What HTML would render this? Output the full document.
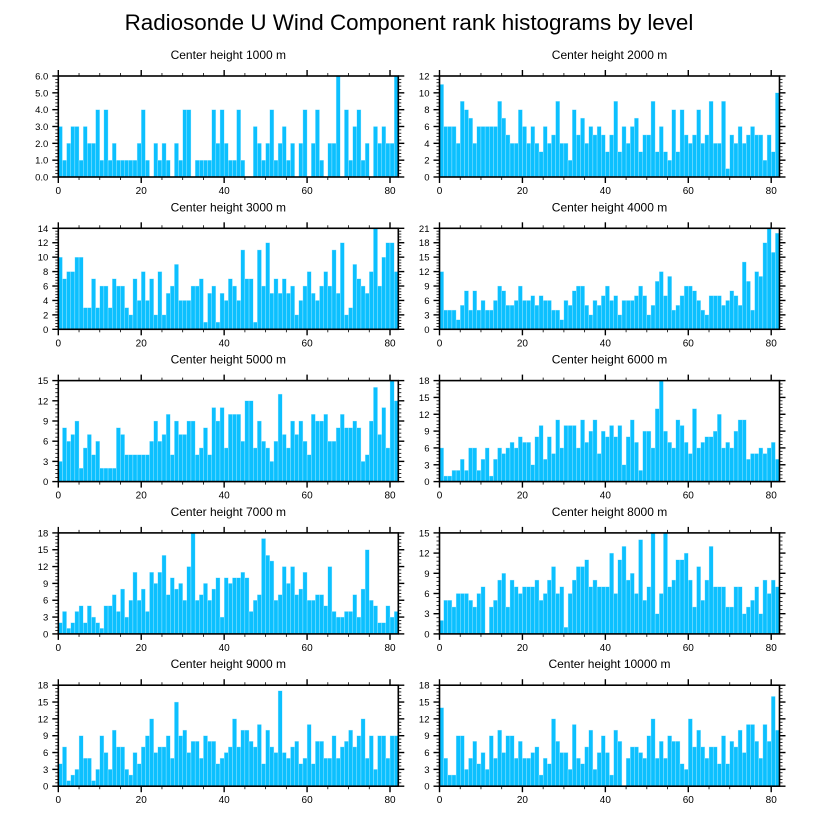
<!DOCTYPE html>
<html><head><meta charset="utf-8"><style>
html,body{margin:0;padding:0;background:#fff;}
svg{display:block;font-family:"Liberation Sans",Arial,sans-serif;}
</style></head><body>
<svg id="chart" width="818" height="824" viewBox="0 0 818 824" xmlns="http://www.w3.org/2000/svg">
<rect width="818" height="824" fill="#fff"/>
<text x="409" y="30" font-size="22.4" text-anchor="middle" fill="#000">Radiosonde U Wind Component rank histograms by level</text>
</svg>
<script>
const panelTitles = ["Center height 1000 m","Center height 2000 m","Center height 3000 m","Center height 4000 m","Center height 5000 m","Center height 6000 m","Center height 7000 m","Center height 8000 m","Center height 9000 m","Center height 10000 m"];
const vals1000 = [3,1,2,3,3,1,3,2,2,4,1,4,1,2,1,1,1,1,1,2,4,1,0,2,1,2,1,0,2,1,4,4,0,1,1,1,1,4,2,4,2,1,1,4,1,0,0,3,2,1,2,4,1,2,3,1,2,0,2,4,0,2,4,1,0,2,2,6,0,4,1,3,4,1,2,0,3,2,3,2,2,6];
const vals2000 = [11,6,6,6,4,9,8,7,4,6,6,6,6,6,9,7,5,4,4,8,6,4,6,4,3,6,4,5,9,4,4,2,8,5,7,4,6,5,6,5,3,5,9,3,6,4,6,7,3,5,5,9,3,6,3,2,8,3,8,5,4,5,8,4,5,9,4,4,9,1,5,4,6,4,5,6,5,5,2,5,3,10];
const vals3000 = [10,7,8,8,10,10,3,3,7,3,6,6,3,7,6,6,3,2,7,4,8,4,7,2,8,2,5,6,9,4,4,4,6,6,7,1,5,6,1,5,4,7,6,4,11,7,7,1,11,6,12,5,7,5,7,5,6,2,4,6,8,5,4,6,8,6,11,5,12,2,3,9,7,6,5,8,14,6,10,12,12,8];
const vals4000 = [12,4,4,4,2,5,8,4,8,4,6,4,4,6,9,8,5,5,6,9,6,6,7,5,7,6,6,4,4,2,6,5,8,9,9,5,3,6,5,7,9,6,7,3,6,6,6,7,9,7,3,5,10,12,7,11,4,5,7,9,9,8,6,4,3,7,7,7,5,6,8,7,5,14,10,4,12,11,18,21,16,20];
const vals5000 = [3,8,6,7,9,2,5,7,4,6,2,2,2,2,8,7,4,4,4,4,4,4,6,9,6,7,10,4,9,7,7,9,9,4,5,8,4,11,9,11,5,10,10,10,6,12,12,5,9,6,5,3,6,13,7,5,9,7,9,6,4,10,9,9,10,6,6,8,10,8,8,9,8,3,4,9,14,7,11,5,15,12];
const vals6000 = [6,1,1,2,2,4,2,6,6,2,4,6,1,4,6,5,6,7,6,8,7,7,3,8,10,4,8,5,11,6,10,10,10,6,11,7,9,11,5,9,8,10,8,10,3,8,11,7,2,9,9,6,13,18,9,7,6,11,10,7,5,13,6,7,8,8,9,12,6,7,6,9,11,11,4,5,5,6,5,6,7,4];
const vals7000 = [2,4,1,2,4,5,2,5,3,2,1,5,5,7,4,8,3,6,11,6,8,4,11,9,11,14,7,10,8,9,6,12,18,6,7,9,6,8,10,3,10,9,10,10,11,10,4,6,7,17,14,13,6,7,12,9,12,7,8,11,6,6,7,7,5,12,4,3,3,4,4,7,3,8,15,6,5,2,2,5,3,4];
const vals8000 = [2,5,5,4,6,6,6,5,4,6,7,0,4,5,8,9,4,8,7,6,7,7,7,8,5,6,8,10,6,7,1,6,8,10,10,11,7,8,7,7,7,12,6,11,13,8,9,6,14,5,7,15,3,6,15,7,8,11,11,12,8,4,10,5,8,13,7,7,7,4,4,7,7,3,4,5,7,3,8,6,8,7];
const vals9000 = [4,7,1,2,3,9,5,5,1,3,9,6,3,10,7,7,3,2,6,4,7,9,12,6,7,7,9,5,15,9,10,6,8,8,5,9,8,8,4,5,6,7,12,7,10,10,8,7,11,4,10,7,6,17,6,5,7,8,4,5,11,4,8,8,5,5,9,5,7,8,10,7,9,12,5,9,3,9,9,5,9,9];
const vals10000 = [14,5,2,2,9,9,3,5,8,4,6,3,9,5,10,6,9,9,5,8,5,5,6,7,2,5,4,12,8,6,6,3,11,5,4,7,10,3,6,9,6,2,10,8,0,5,7,7,6,5,9,12,5,8,5,9,8,8,4,3,12,7,10,7,5,7,7,4,9,4,8,7,10,6,11,11,8,5,11,8,16,10];
const panelValues = [vals1000,vals2000,vals3000,vals4000,vals5000,vals6000,vals7000,vals8000,vals9000,vals10000];
const yTickVals1000 = [0,1,2,3,4,5,6];
const yTickLabels1000 = ["0.0","1.0","2.0","3.0","4.0","5.0","6.0"];
const yTickVals2000 = [0,2,4,6,8,10,12];
const yTickVals3000 = [0,2,4,6,8,10,12,14];
const yTickVals4000 = [0,3,6,9,12,15,18,21];
const yTickVals5000 = [0,3,6,9,12,15];
const yTickVals6000 = [0,3,6,9,12,15,18];
const yTickVals7000 = [0,3,6,9,12,15,18];
const yTickVals8000 = [0,3,6,9,12,15];
const yTickVals9000 = [0,3,6,9,12,15,18];
const yTickVals10000 = [0,3,6,9,12,15,18];
const panelYTicks = [yTickVals1000,yTickVals2000,yTickVals3000,yTickVals4000,yTickVals5000,yTickVals6000,yTickVals7000,yTickVals8000,yTickVals9000,yTickVals10000];
const xTickVals = [0,20,40,60,80];
const xTickLabels = ["0","20","40","60","80"];
const xMax = 82;

const NS = "http://www.w3.org/2000/svg";
const svg = document.getElementById("chart");
function mk(tag, attrs, parent){
  const e = document.createElementNS(NS, tag);
  for (const k in attrs) e.setAttribute(k, attrs[k]);
  (parent||svg).appendChild(e);
  return e;
}
const W = 340, H = 101;
for (let p = 0; p < 10; p++) {
  const col = p % 2, row = Math.floor(p / 2);
  const left = col ? 439.5 : 58.3;
  const top = 76 + row * 152.3;
  const vals = panelValues[p];
  const yt = panelYTicks[p];
  const yMax = yt[yt.length - 1];
  const xs = v => left + v * W / xMax;
  const ys = v => top + H - v / yMax * H;
  const g = mk("g", {});
  
  
  const t = mk("text", {x: left + W/2, y: top - 17, "font-size": 12, "text-anchor": "middle", fill: "#000"}, g);
  t.textContent = panelTitles[p];
  
  
  for (let i = 0; i < vals.length; i++) {
    if (vals[i] <= 0) continue;
    const r = mk("rect", {x: xs(i), y: ys(vals[i]), width: xs(i+1) - xs(i), height: ys(0) - ys(vals[i]), fill: "#0cc0ff", stroke: "#bfeeff", "stroke-width": 0.35}, g);
    
    
  }
  const f = mk("rect", {x: left, y: top, width: W, height: H, fill: "none", stroke: "#000", "stroke-width": 1.6}, g);
  
  
  for (let v = 0; v <= 80; v += 5) {
    const major = v % 20 === 0;
    const L = major ? 6 : 3;
    mk("line", {x1: xs(v), x2: xs(v), y1: top, y2: top - L, stroke: "#000", "stroke-width": major ? 1.4 : 0.8}, g);
    mk("line", {x1: xs(v), x2: xs(v), y1: top + H, y2: top + H + L, stroke: "#000", "stroke-width": major ? 1.4 : 0.8}, g);
  }
  xTickVals.forEach((v, k) => {
    const tx = mk("text", {x: xs(v), y: top + H + 17, "font-size": 10, "text-anchor": "middle", fill: "#000"}, g);
    tx.textContent = xTickLabels[k];
    
    
  });
  const step = yt[1] - yt[0];
  for (let k = 0; k < yt.length; k++) {
    const v = yt[k];
    mk("line", {x1: left, x2: left - 6, y1: ys(v), y2: ys(v), stroke: "#000", "stroke-width": 1.4}, g);
    mk("line", {x1: left + W, x2: left + W + 6, y1: ys(v), y2: ys(v), stroke: "#000", "stroke-width": 1.4}, g);
    if (k < yt.length - 1) {
      for (let m = 1; m < 5; m++) {
        const mv = v + step * m / 5;
        mk("line", {x1: left, x2: left - 3, y1: ys(mv), y2: ys(mv), stroke: "#000", "stroke-width": 0.8}, g);
        mk("line", {x1: left + W, x2: left + W + 3, y1: ys(mv), y2: ys(mv), stroke: "#000", "stroke-width": 0.8}, g);
      }
    }
    const ty = mk("text", {x: left - 10, y: ys(v) + 3.5, "font-size": 9.5, "text-anchor": "end", fill: "#000"}, g);
    ty.textContent = p === 0 ? yTickLabels1000[k] : String(v);
    
    
  }
}
</script>
</body></html>
